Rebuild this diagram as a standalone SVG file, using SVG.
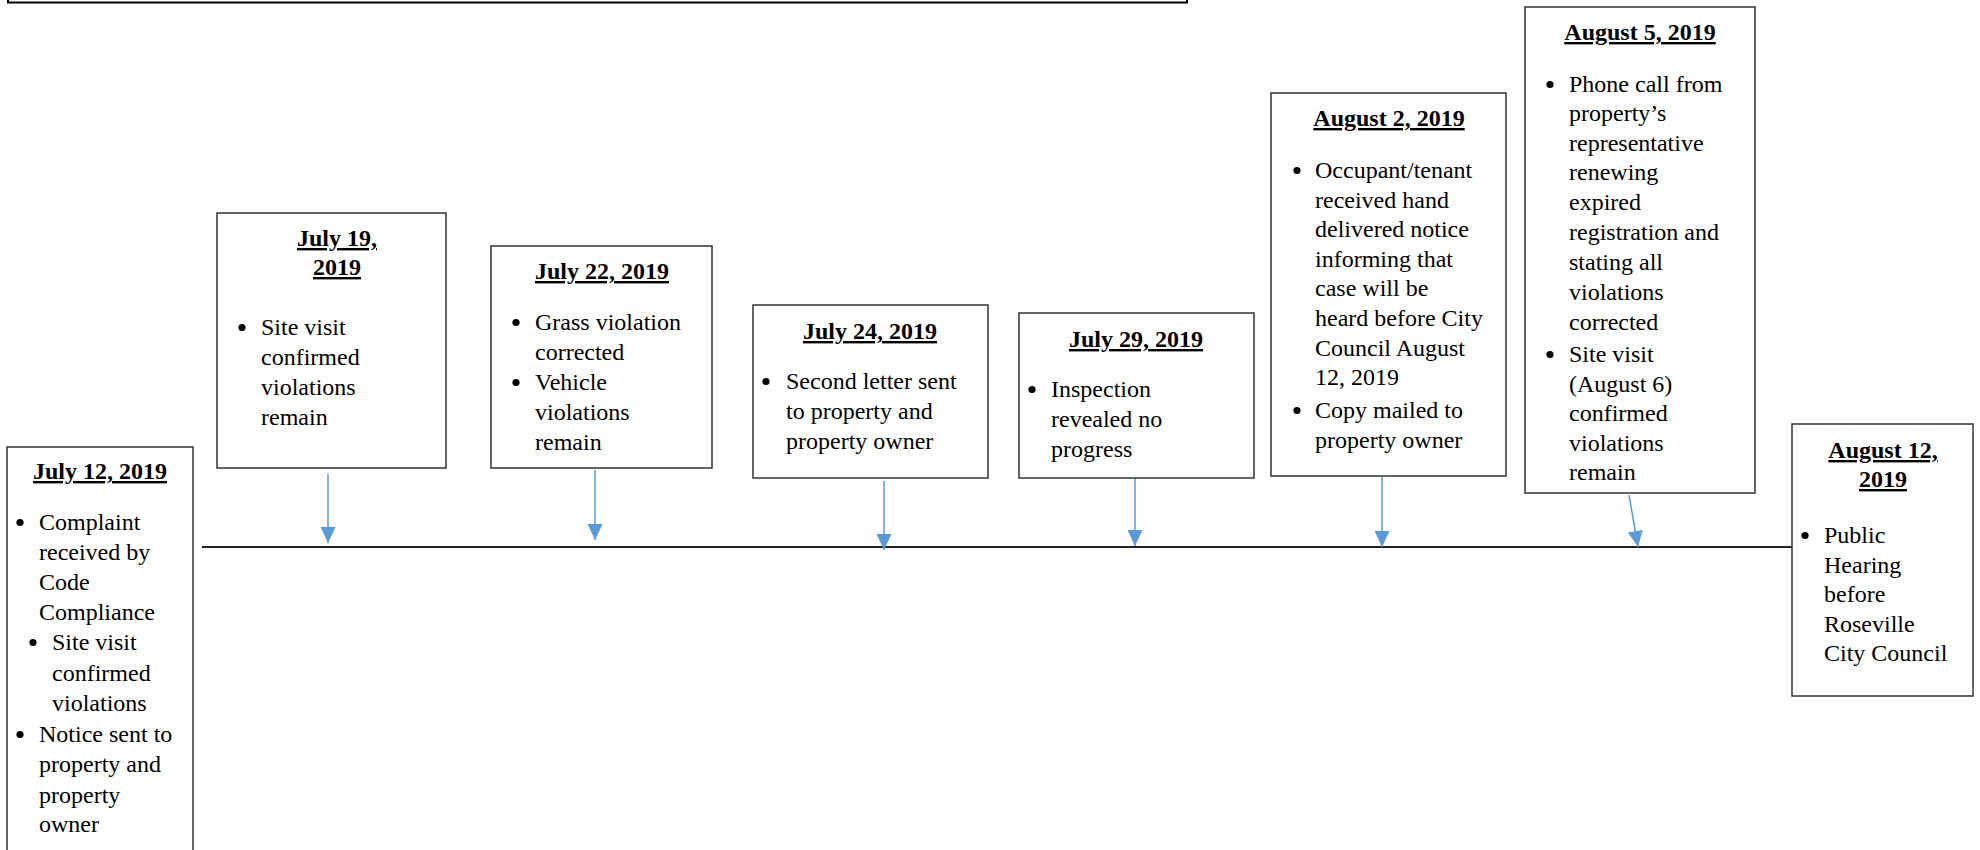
<svg xmlns="http://www.w3.org/2000/svg" width="1980" height="850" viewBox="0 0 1980 850">
<style>
.box{fill:#fff;stroke:#333;stroke-width:1.5}
.t{font-family:"Liberation Serif","Times New Roman",serif;font-size:24px;fill:#000}
.h{font-weight:bold;text-anchor:middle;text-decoration:underline}
.d{fill:#000}
.conn{stroke:#5B9BD5;stroke-width:1.5;fill:none}
.tl{stroke:#222;stroke-width:2}
</style>
<defs>
<marker id="ah" viewBox="0 0 16 15" refX="16" refY="7.5" markerWidth="16" markerHeight="15" orient="auto" markerUnits="userSpaceOnUse">
<path d="M0,0 L16,7.5 L0,15 z" fill="#5B9BD5"/>
</marker>
</defs>
<rect x="8" y="-20" width="1179" height="22.5" fill="#fff" stroke="#000" stroke-width="2"/>
<g id="connectors">
<line class="tl" x1="202" y1="547" x2="1792" y2="547"/>
<line class="conn" x1="328" y1="474" x2="328" y2="543" marker-end="url(#ah)"/>
<line class="conn" x1="595" y1="470" x2="595" y2="540" marker-end="url(#ah)"/>
<line class="conn" x1="884" y1="481" x2="884" y2="550" marker-end="url(#ah)"/>
<line class="conn" x1="1135" y1="478" x2="1135" y2="546" marker-end="url(#ah)"/>
<line class="conn" x1="1382" y1="477" x2="1382" y2="547" marker-end="url(#ah)"/>
<line class="conn" x1="1629" y1="495" x2="1638" y2="547" marker-end="url(#ah)"/>
</g>
<g id="jul12">
<rect class="box" x="7" y="447" width="186" height="420"/>
<text class="t h" x="100" y="479">July 12, 2019</text>
<circle class="d" cx="20" cy="522.5" r="3.6"/>
<text class="t" x="39" y="530">Complaint</text>
<text class="t" x="39" y="560">received by</text>
<text class="t" x="39" y="590">Code</text>
<text class="t" x="39" y="620">Compliance</text>
<circle class="d" cx="33" cy="642.5" r="3.6"/>
<text class="t" x="52" y="650">Site visit</text>
<text class="t" x="52" y="681">confirmed</text>
<text class="t" x="52" y="711">violations</text>
<circle class="d" cx="20" cy="734.5" r="3.6"/>
<text class="t" x="39" y="742">Notice sent to</text>
<text class="t" x="39" y="772">property and</text>
<text class="t" x="39" y="803">property</text>
<text class="t" x="39" y="832">owner</text>
</g>
<g id="jul19">
<rect class="box" x="217" y="213" width="229" height="255"/>
<text class="t h" x="337" y="246">July 19,</text>
<text class="t h" x="337" y="275">2019</text>
<circle class="d" cx="242" cy="327.5" r="3.6"/>
<text class="t" x="261" y="335">Site visit</text>
<text class="t" x="261" y="365">confirmed</text>
<text class="t" x="261" y="395">violations</text>
<text class="t" x="261" y="425">remain</text>
</g>
<g id="jul22">
<rect class="box" x="491" y="246" width="221" height="222"/>
<text class="t h" x="602" y="279">July 22, 2019</text>
<circle class="d" cx="516" cy="322.5" r="3.6"/>
<text class="t" x="535" y="330">Grass violation</text>
<text class="t" x="535" y="360">corrected</text>
<circle class="d" cx="516" cy="382.5" r="3.6"/>
<text class="t" x="535" y="390">Vehicle</text>
<text class="t" x="535" y="420">violations</text>
<text class="t" x="535" y="450">remain</text>
</g>
<g id="jul24">
<rect class="box" x="753" y="305" width="235" height="173"/>
<text class="t h" x="870" y="339">July 24, 2019</text>
<circle class="d" cx="766" cy="381.5" r="3.6"/>
<text class="t" x="786" y="389">Second letter sent</text>
<text class="t" x="786" y="419">to property and</text>
<text class="t" x="786" y="449">property owner</text>
</g>
<g id="jul29">
<rect class="box" x="1019" y="313" width="235" height="165"/>
<text class="t h" x="1136" y="347">July 29, 2019</text>
<circle class="d" cx="1032" cy="389.5" r="3.6"/>
<text class="t" x="1051" y="397">Inspection</text>
<text class="t" x="1051" y="427">revealed no</text>
<text class="t" x="1051" y="457">progress</text>
</g>
<g id="aug2">
<rect class="box" x="1271" y="93" width="235" height="383"/>
<text class="t h" x="1389" y="126">August 2, 2019</text>
<circle class="d" cx="1297" cy="170.5" r="3.6"/>
<text class="t" x="1315" y="178">Occupant/tenant</text>
<text class="t" x="1315" y="208">received hand</text>
<text class="t" x="1315" y="237">delivered notice</text>
<text class="t" x="1315" y="267">informing that</text>
<text class="t" x="1315" y="296">case will be</text>
<text class="t" x="1315" y="326">heard before City</text>
<text class="t" x="1315" y="356">Council August</text>
<text class="t" x="1315" y="385">12, 2019</text>
<circle class="d" cx="1297" cy="410.5" r="3.6"/>
<text class="t" x="1315" y="418">Copy mailed to</text>
<text class="t" x="1315" y="448">property owner</text>
</g>
<g id="aug5">
<rect class="box" x="1525" y="7" width="230" height="486"/>
<text class="t h" x="1640" y="40">August 5, 2019</text>
<circle class="d" cx="1550" cy="84.5" r="3.6"/>
<text class="t" x="1569" y="92">Phone call from</text>
<text class="t" x="1569" y="121">property’s</text>
<text class="t" x="1569" y="151">representative</text>
<text class="t" x="1569" y="180">renewing</text>
<text class="t" x="1569" y="210">expired</text>
<text class="t" x="1569" y="240">registration and</text>
<text class="t" x="1569" y="270">stating all</text>
<text class="t" x="1569" y="300">violations</text>
<text class="t" x="1569" y="330">corrected</text>
<circle class="d" cx="1550" cy="354.5" r="3.6"/>
<text class="t" x="1569" y="362">Site visit</text>
<text class="t" x="1569" y="392">(August 6)</text>
<text class="t" x="1569" y="421">confirmed</text>
<text class="t" x="1569" y="451">violations</text>
<text class="t" x="1569" y="480">remain</text>
</g>
<g id="aug12">
<rect class="box" x="1792" y="424" width="181" height="272"/>
<text class="t h" x="1883" y="458">August 12,</text>
<text class="t h" x="1883" y="487">2019</text>
<circle class="d" cx="1805" cy="535.5" r="3.6"/>
<text class="t" x="1824" y="543">Public</text>
<text class="t" x="1824" y="573">Hearing</text>
<text class="t" x="1824" y="602">before</text>
<text class="t" x="1824" y="632">Roseville</text>
<text class="t" x="1824" y="661">City Council</text>
</g>
</svg>
